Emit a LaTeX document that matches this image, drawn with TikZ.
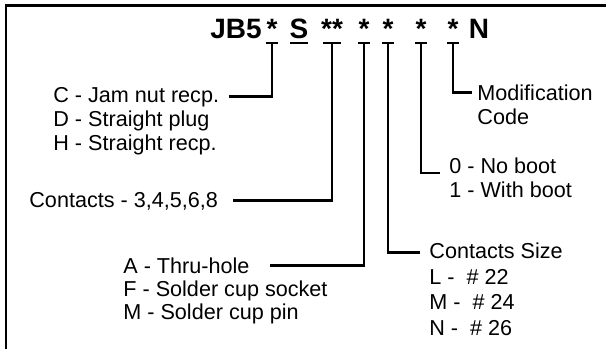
\documentclass[tikz,border=0pt]{standalone}
\usepackage{fontspec}
\setmainfont{Liberation Sans}
\usetikzlibrary{calc}
\tikzset{
  wire/.style={line width=1.4pt},
  frame/.style={line width=1.3pt},
  lbl/.style={anchor=base west, inner sep=0pt, font=\fontsize{10.8}{12}\selectfont},
  code/.style={anchor=base, inner sep=0pt, font=\fontsize{14}{16}\selectfont\bfseries},
}
\newcommand{\tickbar}[2]{% \tickbar{node}{half width}
  \draw[wire] ($(#1.base |- tickline)+(-#2,0)$) -- ($(#1.base |- tickline)+(#2,0)$);}

\begin{document}
\begin{tikzpicture}[x=0.5pt, y=-0.5pt]
  \useasboundingbox (0,0) rectangle (610,349);
  % frame, top and left edge only
  \draw[frame] (6,349) -- (6,5.5) -- (606,5.5);

  % -- part number --
  \coordinate (tickline) at (0,43);
  \node[code] (jb)    at (236,38) {JB5};
  \node[code] (sty)   at (272,38) {*};
  \node[code] (ser)   at (299,38) {S};
  \node[code] (cnt)   at (332,38) {**};
  \node[code] (term)  at (364,38) {*};
  \node[code] (csz)   at (388,38) {*};
  \node[code] (boot)  at (421,38) {*};
  \node[code] (mod)   at (453,38) {*};
  \node[code] (fin)   at (479,38) {N};
  \tickbar{sty}{6}\tickbar{ser}{9}\tickbar{cnt}{9}
  \tickbar{term}{6}\tickbar{csz}{6}\tickbar{boot}{6}\tickbar{mod}{6}

  % -- options --
  \node[lbl] (mountC) at (53,102) {C - Jam nut recp.};
  \node[lbl] (mountD) at (53,126) {D - Straight plug};
  \node[lbl] (mountH) at (53,150) {H - Straight recp.};

  \node[lbl] (pins) at (29,207) {Contacts - 3,4,5,6,8};

  \node[lbl] (termA) at (123,273) {A - Thru-hole};
  \node[lbl] (termF) at (123,296) {F - Solder cup socket};
  \node[lbl] (termM) at (123,319) {M - Solder cup pin};

  \node[lbl] (sizeT) at (429,258) {Contacts Size};
  \node[lbl] (sizeL) at (429,284) {L -\ \ \# 22};
  \node[lbl] (sizeM) at (429,309) {M -\ \ \# 24};
  \node[lbl] (sizeN) at (429,335) {N -\ \ \# 26};

  \node[lbl] (boot0) at (449,173) {0 - No boot};
  \node[lbl] (boot1) at (449,197) {1 - With boot};

  \node[lbl] (modif) at (477,100) {Modification};
  \node[lbl] (modcd) at (477,124) {Code};

  % -- leaders --
  \draw[wire] (sty.base |- tickline) |- ([xshift=5pt]mountC.east);
  \draw[wire] (cnt.base |- tickline) |- ([xshift=7.5pt]pins.east);
  \draw[wire] (term.base |- tickline) |- ([xshift=10pt]termA.east);
  \draw[wire] (csz.base |- tickline) |- ([xshift=-4.5pt,yshift=-1pt]sizeT.west);
  \draw[wire] (boot.base |- tickline) |- ([xshift=-4.5pt]boot0.base west);
  \draw[wire] (mod.base |- tickline) |- ([xshift=-2.5pt]modif.west);
\end{tikzpicture}
\end{document}
